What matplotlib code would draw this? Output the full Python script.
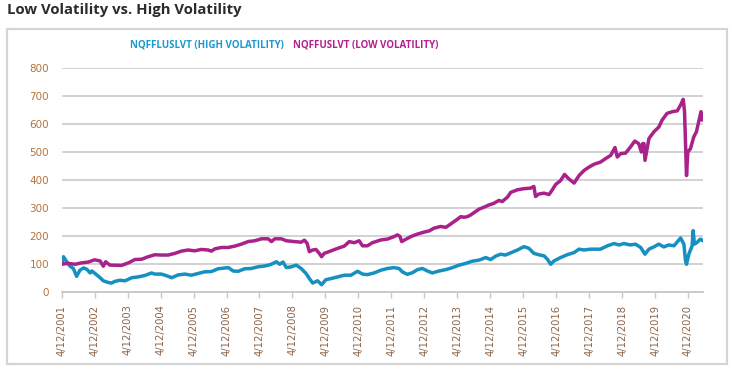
import matplotlib
matplotlib.use("Agg")
import matplotlib.pyplot as plt
from matplotlib.patches import Rectangle

# ---- data (decimal years, index values) ----
low_t = [2001.28, 2001.48, 2001.68, 2001.88, 2002.09, 2002.27, 2002.44, 2002.54, 2002.61, 2002.74,
         2003.09, 2003.30, 2003.50, 2003.70, 2003.90, 2004.10, 2004.30, 2004.51, 2004.71, 2004.91,
         2005.11, 2005.31, 2005.51, 2005.72, 2005.82, 2005.92, 2006.12, 2006.33, 2006.53, 2006.73,
         2006.93, 2007.13, 2007.34, 2007.54, 2007.64, 2007.74, 2007.94, 2008.09, 2008.34, 2008.54,
         2008.64, 2008.72, 2008.79, 2008.89, 2008.99, 2009.09, 2009.16, 2009.24, 2009.45, 2009.65,
         2009.85, 2010.00, 2010.15, 2010.30, 2010.40, 2010.55, 2010.70, 2010.96, 2011.16, 2011.36,
         2011.46, 2011.54, 2011.59, 2011.71, 2011.87, 2012.07, 2012.27, 2012.42, 2012.57, 2012.77,
         2012.93, 2013.08, 2013.28, 2013.38, 2013.48, 2013.58, 2013.68, 2013.79, 2013.94, 2014.09,
         2014.24, 2014.39, 2014.54, 2014.64, 2014.80, 2014.90, 2015.10, 2015.30, 2015.50, 2015.60,
         2015.65, 2015.75, 2015.91, 2016.06, 2016.16, 2016.26, 2016.41, 2016.53, 2016.66, 2016.82,
         2016.97, 2017.12, 2017.27, 2017.42, 2017.62, 2017.77, 2017.93, 2018.06, 2018.13, 2018.23,
         2018.38, 2018.53, 2018.66, 2018.78, 2018.86, 2018.90, 2018.94, 2018.97, 2019.09, 2019.24,
         2019.39, 2019.49, 2019.64, 2019.80, 2019.95, 2020.05, 2020.13, 2020.17, 2020.20, 2020.23,
         2020.27, 2020.35, 2020.45, 2020.53, 2020.60, 2020.67, 2020.70, 2020.73]
low_v = [100, 102, 99, 104, 107, 115, 111, 92, 108, 96,
         95, 104, 116, 117, 126, 133, 132, 132, 138, 146,
         150, 147, 152, 150, 146, 154, 159, 159, 164, 171,
         180, 183, 190, 190, 180, 190, 190, 183, 180, 178,
         185, 174, 144, 150, 152, 138, 126, 138, 147, 156,
         164, 180, 176, 183, 165, 165, 176, 186, 189, 198,
         204, 198, 180, 188, 198, 207, 214, 218, 228, 234,
         231, 243, 260, 269, 267, 269, 275, 284, 296, 303,
         311, 317, 327, 323, 339, 356, 365, 369, 371, 377,
         341, 350, 353, 348, 365, 384, 398, 420, 404, 389,
         416, 434, 446, 456, 464, 476, 488, 516, 482, 494,
         496, 518, 539, 530, 500, 530, 530, 470, 548, 572,
         589, 614, 638, 644, 647, 668, 688, 644, 530, 416,
         500, 512, 554, 572, 608, 644, 614, 620]

high_t = [2001.28, 2001.33, 2001.43, 2001.53, 2001.63, 2001.73, 2001.83, 2001.94, 2002.04, 2002.14,
          2002.19, 2002.29, 2002.44, 2002.54, 2002.69, 2002.79, 2002.89, 2003.04, 2003.20, 2003.40,
          2003.60, 2003.80, 2004.00, 2004.10, 2004.30, 2004.51, 2004.61, 2004.81, 2005.01, 2005.21,
          2005.41, 2005.61, 2005.82, 2006.02, 2006.33, 2006.48, 2006.63, 2006.83, 2007.03, 2007.23,
          2007.44, 2007.59, 2007.79, 2007.89, 2007.99, 2008.09, 2008.24, 2008.39, 2008.54, 2008.69,
          2008.79, 2008.89, 2009.04, 2009.16, 2009.29, 2009.45, 2009.65, 2009.85, 2010.05, 2010.25,
          2010.40, 2010.55, 2010.75, 2010.96, 2011.16, 2011.36, 2011.51, 2011.61, 2011.76, 2011.92,
          2012.07, 2012.22, 2012.37, 2012.52, 2012.72, 2012.93, 2013.13, 2013.33, 2013.53, 2013.73,
          2013.94, 2014.14, 2014.29, 2014.44, 2014.59, 2014.74, 2014.90, 2015.10, 2015.30, 2015.45,
          2015.60, 2015.75, 2015.91, 2016.01, 2016.11, 2016.21, 2016.41, 2016.61, 2016.82, 2016.97,
          2017.12, 2017.32, 2017.62, 2017.83, 2018.03, 2018.18, 2018.33, 2018.53, 2018.68, 2018.84,
          2018.97, 2019.09, 2019.24, 2019.39, 2019.54, 2019.69, 2019.85, 2020.05, 2020.15, 2020.20,
          2020.23, 2020.30, 2020.40, 2020.43, 2020.47, 2020.55, 2020.65, 2020.73]
high_v = [100, 126, 108, 92, 84, 56, 78, 86, 81, 68,
          75, 66, 51, 40, 34, 32, 38, 42, 40, 51,
          54, 59, 68, 64, 64, 56, 51, 61, 64, 60,
          66, 72, 73, 83, 87, 75, 74, 83, 84, 90,
          93, 97, 108, 99, 107, 87, 90, 96, 84, 66,
          48, 32, 40, 26, 44, 48, 54, 60, 60, 74,
          64, 62, 68, 78, 84, 87, 84, 72, 63, 69,
          80, 84, 75, 68, 75, 80, 87, 96, 102, 110,
          114, 123, 116, 128, 135, 132, 140, 150, 162, 156,
          138, 133, 129, 117, 99, 111, 123, 133, 141, 153,
          150, 153, 153, 165, 173, 168, 173, 168, 171, 159,
          135, 153, 161, 171, 161, 168, 165, 193, 171, 111,
          99, 135, 165, 219, 171, 177, 189, 183]

years = list(range(2001, 2021))
tick_labels = [f"4/12/{y}" for y in years]
y_ticks = [0, 100, 200, 300, 400, 500, 600, 700, 800]

series_names = ["NQFFLUSLVT (HIGH VOLATILITY)", "NQFFUSLVT (LOW VOLATILITY)"]
title = "Low Volatility vs. High Volatility"

# ---- styling ----
c_high = "#1590c0"
c_low = "#a8228a"
c_high_txt = "#1a9ad0"
c_low_txt = "#b5208f"

W, H = 732, 369
fig = plt.figure(figsize=(W / 100, H / 100), dpi=100)
fig.patch.set_facecolor("white")

# outer box
fig.patches.append(Rectangle((7 / W, 1 - 364 / H), (727 - 7) / W, (364 - 29) / H,
                             transform=fig.transFigure, fill=False,
                             edgecolor="#d4d4d4", linewidth=1.6))

fig.text(7 / W, 1 - 10 / H, title, fontsize=10.7, fontweight="bold",
         color="#2b2b2b", family=["Open Sans", "DejaVu Sans"], va="center", ha="left")

fig.text(130 / W, 1 - 45 / H, series_names[0], fontsize=7, fontweight="bold",
         color=c_high_txt, family=["Open Sans", "DejaVu Sans"], va="center", ha="left")
fig.text(293 / W, 1 - 45 / H, series_names[1], fontsize=7, fontweight="bold",
         color=c_low_txt, family=["Open Sans", "DejaVu Sans"], va="center", ha="left")

left, right = 61.7 / W, 703 / W
bottom, top = 1 - 292 / H, 1 - 68 / H
ax = fig.add_axes([left, bottom, right - left, top - bottom])

ax.plot(high_t, high_v, color=c_high, lw=2.5, solid_joinstyle="round", zorder=3)
ax.plot(low_t, low_v, color=c_low, lw=2.5, solid_joinstyle="round", zorder=3)

tick_pos = [y + 101 / 365 for y in years]
ax.set_xlim(2001.28, 2020.73)
ax.set_ylim(0, 800)
ax.set_xticks(tick_pos)
ax.set_xticklabels(tick_labels, rotation=90, fontsize=7.2, color="#8c6448")
ax.set_yticks(y_ticks)
ax.set_yticklabels([str(v) for v in y_ticks], fontsize=7.5, color="#b8733a")

ax.grid(axis="y", color="#cfcfcf", linewidth=1.3, zorder=0)
ax.set_axisbelow(True)
for s in ["left", "right", "top"]:
    ax.spines[s].set_visible(False)
ax.spines["bottom"].set_color("#c8c8c8")
ax.spines["bottom"].set_linewidth(1.3)
ax.tick_params(axis="y", length=0, pad=9)
ax.tick_params(axis="x", length=4, width=1, color="#c8c8c8", pad=5)

fig.savefig("out.png", dpi=100, facecolor="white")
